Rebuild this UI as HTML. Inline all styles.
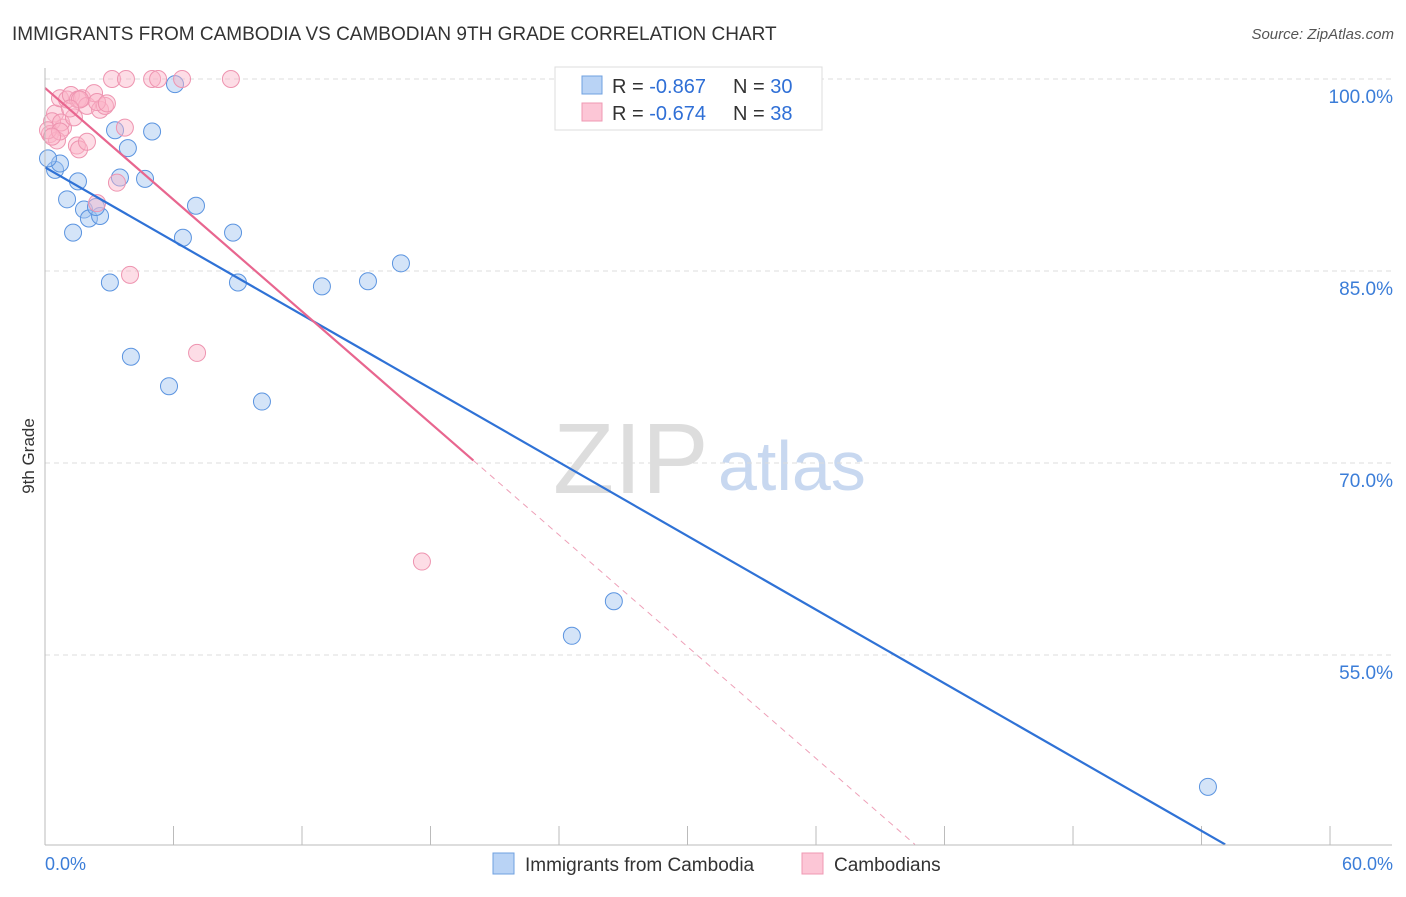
<!DOCTYPE html>
<html><head><meta charset="utf-8"><style>
body{margin:0;background:#fff;font-family:"Liberation Sans",sans-serif}
svg text{font-family:"Liberation Sans",sans-serif}
</style></head><body>
<svg width="1406" height="892" id="c">
<text x="12" y="40" font-size="19" fill="#333">IMMIGRANTS FROM CAMBODIA VS CAMBODIAN 9TH GRADE CORRELATION CHART</text>
<text x="1394" y="39" font-size="15" fill="#555" font-style="italic" text-anchor="end">Source: ZipAtlas.com</text>
<text x="34" y="456" font-size="17" fill="#333" transform="rotate(-90 34 456)" text-anchor="middle">9th Grade</text>
<text x="553" y="493" font-size="100" fill="#ddd" font-family="Liberation Serif">ZIP</text>
<text x="718" y="490" font-size="70" fill="#c8d8f0">atlas</text>
<g id="grid"></g><g id="pts"></g><g id="lines"></g>
<line x1="45" y1="68" x2="45" y2="845" stroke="#bbb"/>
<line x1="45" y1="845" x2="1392" y2="845" stroke="#bbb"/>
<text x="45" y="870" font-size="18" fill="#3b7dd8">0.0%</text>
<text x="1393" y="870" font-size="18" fill="#3b7dd8" text-anchor="end">60.0%</text>
<g>
<rect x="555" y="67" width="267" height="63" fill="#fff" stroke="#ddd"/>
<rect x="582" y="76" width="20" height="18" fill="#b9d3f5" stroke="#6fa0e0"/>
<rect x="582" y="103" width="20" height="18" fill="#fcc6d6" stroke="#ef98b3"/>
<text x="612" y="93" font-size="20" fill="#333">R = <tspan fill="#2f6fd6">-0.867</tspan></text>
<text x="733" y="93" font-size="20" fill="#333">N = <tspan fill="#2f6fd6">30</tspan></text>
<text x="612" y="120" font-size="20" fill="#333">R = <tspan fill="#2f6fd6">-0.674</tspan></text>
<text x="733" y="120" font-size="20" fill="#333">N = <tspan fill="#2f6fd6">38</tspan></text>
</g>
<g>
<rect x="493" y="853" width="21" height="21" fill="#b9d3f5" stroke="#6fa0e0"/>
<text x="525" y="871" font-size="19" fill="#333">Immigrants from Cambodia</text>
<rect x="802" y="853" width="21" height="21" fill="#fcc6d6" stroke="#ef98b3"/>
<text x="834" y="871" font-size="19" fill="#333">Cambodians</text>
</g>
</svg>
<script>
const yTicks=[100,85,70,55];
const yTickLabels=["100.0%","85.0%","70.0%","55.0%"];
const xTicks=[0,6,12,18,24,30,36,42,48,54,60];
const blueX=[.47,.70,.14,1.03,1.31,1.54,1.82,2.05,2.57,2.38,3.03,3.27,3.50,3.87,4.01,4.67,5.00,5.79,6.07,6.44,7.05,8.78,9.01,10.13,12.93,15.08,16.62,24.60,26.56,54.30];
const blueY=[92.9,93.4,93.8,90.6,88.0,92.0,89.8,89.1,89.3,90.0,84.1,96.0,92.3,94.6,78.3,92.2,95.9,76.0,99.6,87.6,90.1,88.0,84.1,74.8,83.8,84.2,85.6,56.5,59.2,44.7];
const pinkX=[3.13,3.78,5.0,5.28,6.40,8.68,.47,.70,1.03,1.21,1.54,1.73,1.96,2.29,2.57,2.80,2.43,.84,.33,.23,.56,.14,.75,1.49,1.59,1.96,2.43,3.36,3.73,3.97,7.10,17.6,.70,1.35,1.63,.33,2.89,1.17];
const pinkY=[100,100,100,100,100,100,97.3,98.5,98.4,98.75,98.4,98.5,97.9,98.9,97.6,97.9,98.2,96.2,96.7,95.7,95.2,96.0,96.6,94.8,94.5,95.1,90.3,91.9,96.2,84.7,78.6,62.3,95.9,97.0,98.4,95.5,98.1,97.7];
const blueTrend=[93.1,-0.96];
const pinkTrend=[99.3,-1.455];
const pinkSolidEnd=20;
const NS="http://www.w3.org/2000/svg";
const sx=v=>45+v*21.417, sy=v=>79+(100-v)*12.8;
function mk(t,a,p){const e=document.createElementNS(NS,t);for(const k in a)e.setAttribute(k,a[k]);document.getElementById(p).appendChild(e);return e;}
yTicks.forEach((t,i)=>{
 const l=mk('line',{x1:45,x2:1392,y1:sy(t),y2:sy(t),stroke:'#ddd','stroke-dasharray':'5,4'},'grid');
 
 
 const tx=mk('text',{x:1393,y:sy(t)+24,'font-size':19,fill:'#3b7dd8','text-anchor':'end'},'grid');
 tx.textContent=yTickLabels[i];
 
 
});
xTicks.forEach(t=>{
 const l=mk('line',{x1:sx(t),x2:sx(t),y1:826,y2:845,stroke:'#bbb'},'grid');
 
 
});
blueX.forEach((x,i)=>{
 const c=mk('circle',{cx:sx(x),cy:sy(blueY[i]),r:8.5,fill:'rgba(160,195,240,0.45)',stroke:'#5b94e0','stroke-width':1},'pts');
 
 
});
pinkX.forEach((x,i)=>{
 const c=mk('circle',{cx:sx(x),cy:sy(pinkY[i]),r:8.5,fill:'rgba(250,180,200,0.45)',stroke:'#ee94b0','stroke-width':1},'pts');
 
 
});
const bxEnd=(40.2-blueTrend[0])/blueTrend[1];
const bl=mk('line',{x1:sx(0),y1:sy(blueTrend[0]),x2:sx(bxEnd),y2:sy(40.2),stroke:'#2f72d6','stroke-width':2.2},'lines');


const pl=mk('line',{x1:sx(0),y1:sy(pinkTrend[0]),x2:sx(pinkSolidEnd),y2:sy(pinkTrend[0]+pinkTrend[1]*pinkSolidEnd),stroke:'#e8668f','stroke-width':2.2},'lines');


const pxEnd=(40.2-pinkTrend[0])/pinkTrend[1];
const pd=mk('line',{x1:sx(pinkSolidEnd),y1:sy(pinkTrend[0]+pinkTrend[1]*pinkSolidEnd),x2:sx(pxEnd),y2:sy(40.2),stroke:'#eea0b8','stroke-width':1,'stroke-dasharray':'6,5'},'lines');


</script>
</body></html>
